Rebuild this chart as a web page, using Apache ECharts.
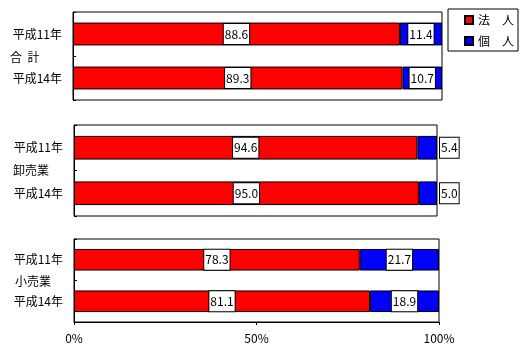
<!DOCTYPE html>
<html>
<head>
<meta charset="utf-8">
<script src="https://cdn.jsdelivr.net/npm/echarts@6/dist/echarts.min.js"></script>
<style>html,body{margin:0;padding:0;background:#fff;}#c{width:525px;height:356px;}</style>
</head>
<body>
<div id="c"></div>
<script>
const years = ['平成11年', '平成14年'];
const groups = ['合  計', '卸売業', '小売業'];
const houjin = [[88.6, 89.3], [94.6, 95.0], [78.3, 81.1]];
const kojin = [[11.4, 10.7], [5.4, 5.0], [21.7, 18.9]];
const xTicks = ['0%', '50%', '100%'];
const seriesNames = ['法　人', '個　人'];

const FONT = '"Noto Sans CJK JP", sans-serif';
const grids = [
  {left: 73, top: 12, width: 369, height: 88},
  {left: 74, top: 125, width: 363, height: 91},
  {left: 74, top: 239, width: 365, height: 83}
];
const groupLabelPos = [[10, 57], [13, 170], [15, 281]];

const labelBox = {
  show: true, color: '#000', fontFamily: FONT, fontSize: 12,
  backgroundColor: '#fff', borderColor: '#000', borderWidth: 1,
  padding: [3, 1, 2, 1], lineHeight: 15,
  formatter: p => p.value.toFixed(1)
};

const xAxes = grids.map((g, i) => ({
  gridIndex: i, type: 'value', min: 0, max: 100, interval: 50,
  show: i === 2,
  axisLine: {show: true, lineStyle: {color: '#000'}},
  axisTick: {show: true, length: 3, lineStyle: {color: '#000'}},
  splitLine: {show: false},
  axisLabel: {color: '#000', fontFamily: FONT, fontSize: 12, margin: 10,
    formatter: v => xTicks[Math.round(v / 50)]}
}));
const yAxes = grids.map((g, i) => ({
  gridIndex: i, type: 'category', data: years, inverse: true,
  axisLine: {show: true, lineStyle: {color: '#000'}},
  axisTick: {show: true, inside: true, length: 3, lineStyle: {color: '#000'}},
  axisLabel: {color: '#000', fontFamily: FONT, fontSize: 12, margin: 11}
}));

const series = [];
grids.forEach((g, i) => {
  series.push({
    name: seriesNames[0], type: 'bar', stack: 's' + i, xAxisIndex: i, yAxisIndex: i,
    barWidth: '52%', data: houjin[i],
    itemStyle: {color: '#ff0000', borderColor: '#000', borderWidth: 1},
    label: Object.assign({}, labelBox, {position: 'inside'})
  });
  series.push({
    name: seriesNames[1], type: 'bar', stack: 's' + i, xAxisIndex: i, yAxisIndex: i,
    barWidth: '52%', data: kojin[i],
    itemStyle: {color: '#0000ff', borderColor: '#000', borderWidth: 1},
    label: Object.assign({}, labelBox, i === 1 ? {position: 'right', distance: 3} : {position: 'inside'})
  });
});

const chart = echarts.init(document.getElementById('c'), null, {renderer: 'canvas'});
chart.setOption({
  animation: false,
  backgroundColor: '#fff',
  grid: grids.map(g => Object.assign({show: true, borderColor: '#000', borderWidth: 1, backgroundColor: 'transparent'}, g)),
  xAxis: xAxes,
  yAxis: yAxes,
  legend: {
    data: seriesNames, orient: 'vertical', left: 448, top: 9,
    itemWidth: 8, itemHeight: 8, itemGap: 9,
    padding: [5, 4, 4, 16],
    borderColor: '#000', borderWidth: 1, backgroundColor: '#fff',
    textStyle: {color: '#000', fontFamily: FONT, fontSize: 12},
    icon: 'rect'
  },
  graphic: groups.map((t, i) => ({
    type: 'text', x: groupLabelPos[i][0], y: groupLabelPos[i][1],
    style: {text: t, fill: '#000', font: '12px ' + FONT, textAlign: 'left', textVerticalAlign: 'middle'}
  })),
  series: series
});
</script>
</body>
</html>
